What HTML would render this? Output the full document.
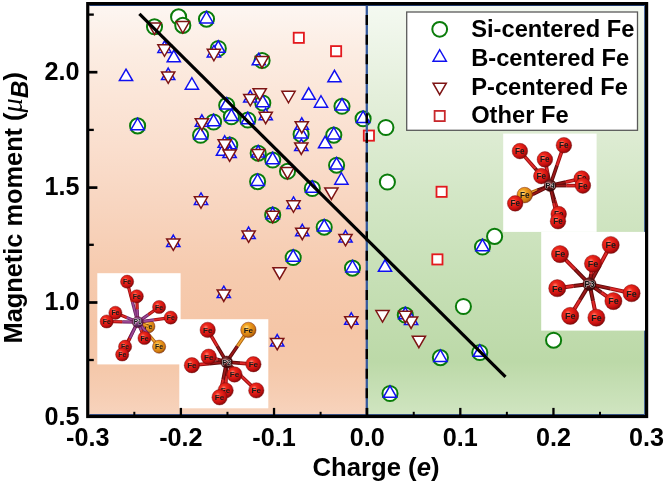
<!DOCTYPE html>
<html><head><meta charset="utf-8"><style>
html,body{margin:0;padding:0;background:#fff;}
svg{display:block;filter:blur(0.35px);}
.b{font-family:"Liberation Sans",sans-serif;font-weight:bold;fill:#000;}
text{font-family:"Liberation Sans",sans-serif;}
</style></head><body>
<svg width="666" height="484" viewBox="0 0 666 484">
<rect width="666" height="484" fill="#fff"/>
<defs>
<linearGradient id="gO" x1="0" y1="0" x2="0" y2="1">
<stop offset="0.000" stop-color="#fdf6f2"/>
<stop offset="0.109" stop-color="#fcede3"/>
<stop offset="0.231" stop-color="#fbe5d7"/>
<stop offset="0.353" stop-color="#fadecd"/>
<stop offset="0.475" stop-color="#f8d6c1"/>
<stop offset="0.646" stop-color="#f6cbaf"/>
<stop offset="0.793" stop-color="#f5c6a7"/>
<stop offset="0.881" stop-color="#f5c8aa"/>
<stop offset="0.951" stop-color="#f6ceb4"/>
<stop offset="0.998" stop-color="#f7d3bc"/>
</linearGradient>
<linearGradient id="gG" x1="0" y1="0" x2="0" y2="1">
<stop offset="0" stop-color="#f4f9f1"/>
<stop offset="0.22" stop-color="#e4efdb"/>
<stop offset="0.45" stop-color="#d4e7c7"/>
<stop offset="0.68" stop-color="#c6dfb5"/>
<stop offset="0.87" stop-color="#bcd9a8"/>
<stop offset="1" stop-color="#d0e5c1"/>
</linearGradient>
<radialGradient id="ball" cx="0.38" cy="0.35" r="0.7">
<stop offset="0" stop-color="#ff8a7a"/>
<stop offset="0.25" stop-color="#f02a1c"/>
<stop offset="0.7" stop-color="#c81010"/>
<stop offset="1" stop-color="#7a0606"/>
</radialGradient>
<radialGradient id="ballO" cx="0.38" cy="0.35" r="0.7">
<stop offset="0" stop-color="#ffe08a"/>
<stop offset="0.3" stop-color="#f0a020"/>
<stop offset="0.75" stop-color="#d07a10"/>
<stop offset="1" stop-color="#8a4a06"/>
</radialGradient>
<radialGradient id="ballP" cx="0.4" cy="0.35" r="0.7">
<stop offset="0" stop-color="#8a6a7a"/>
<stop offset="0.5" stop-color="#4a2a35"/>
<stop offset="1" stop-color="#1a0a10"/>
</radialGradient>
<radialGradient id="ballPm" cx="0.4" cy="0.35" r="0.7">
<stop offset="0" stop-color="#b07070"/>
<stop offset="0.45" stop-color="#5a1414"/>
<stop offset="1" stop-color="#200404"/>
</radialGradient>
<radialGradient id="ballPp" cx="0.4" cy="0.35" r="0.7">
<stop offset="0" stop-color="#c090c0"/>
<stop offset="0.45" stop-color="#7a3a78"/>
<stop offset="1" stop-color="#3a1038"/>
</radialGradient>
</defs>
<rect x="89.35" y="5.20" width="277.45" height="409.70" fill="url(#gO)"/>
<rect x="366.80" y="5.20" width="278.20" height="409.70" fill="url(#gG)"/>
<path d="M89.35 5.50 H644.70 V414.60 H89.35" fill="none" stroke="#2a4a8a" stroke-width="1"/>
<g fill="#fff" stroke="#0a7c0a" stroke-width="2.00">
<circle cx="154.50" cy="26.80" r="7.55"/>
<circle cx="178.60" cy="16.90" r="7.55"/>
<circle cx="182.80" cy="25.40" r="7.55"/>
<circle cx="206.50" cy="19.10" r="7.55"/>
<circle cx="218.30" cy="48.50" r="7.55"/>
<circle cx="262.10" cy="60.50" r="7.55"/>
<circle cx="342.00" cy="106.30" r="7.55"/>
<circle cx="226.70" cy="105.30" r="7.55"/>
<circle cx="231.40" cy="116.80" r="7.55"/>
<circle cx="247.80" cy="120.00" r="7.55"/>
<circle cx="213.60" cy="122.00" r="7.55"/>
<circle cx="200.60" cy="135.30" r="7.55"/>
<circle cx="137.60" cy="125.90" r="7.55"/>
<circle cx="262.80" cy="103.00" r="7.55"/>
<circle cx="301.10" cy="134.30" r="7.55"/>
<circle cx="363.10" cy="118.80" r="7.55"/>
<circle cx="333.80" cy="135.10" r="7.55"/>
<circle cx="336.60" cy="165.20" r="7.55"/>
<circle cx="385.90" cy="127.50" r="7.55"/>
<circle cx="387.40" cy="182.00" r="7.55"/>
<circle cx="229.80" cy="145.00" r="7.55"/>
<circle cx="258.20" cy="153.20" r="7.55"/>
<circle cx="272.70" cy="160.00" r="7.55"/>
<circle cx="287.50" cy="171.30" r="7.55"/>
<circle cx="257.60" cy="181.60" r="7.55"/>
<circle cx="312.30" cy="188.50" r="7.55"/>
<circle cx="272.70" cy="215.00" r="7.55"/>
<circle cx="324.20" cy="227.20" r="7.55"/>
<circle cx="293.20" cy="257.50" r="7.55"/>
<circle cx="352.50" cy="268.10" r="7.55"/>
<circle cx="405.30" cy="315.00" r="7.55"/>
<circle cx="390.00" cy="393.50" r="7.55"/>
<circle cx="440.40" cy="357.60" r="7.55"/>
<circle cx="479.80" cy="352.50" r="7.55"/>
<circle cx="482.50" cy="247.00" r="7.55"/>
<circle cx="494.60" cy="236.40" r="7.55"/>
<circle cx="463.40" cy="306.50" r="7.55"/>
<circle cx="553.60" cy="340.20" r="7.55"/>
</g>
<g fill="#fff" stroke="#1010f0" stroke-width="1.50" stroke-linejoin="miter">
<polygon points="206.50,11.45 213.12,22.93 199.88,22.93"/>
<polygon points="218.30,40.85 224.92,52.33 211.68,52.33"/>
<polygon points="342.00,98.65 348.62,110.12 335.38,110.12"/>
<polygon points="226.70,97.65 233.32,109.12 220.08,109.12"/>
<polygon points="231.40,109.15 238.02,120.62 224.78,120.62"/>
<polygon points="247.80,112.35 254.42,123.83 241.18,123.83"/>
<polygon points="213.60,114.35 220.22,125.83 206.98,125.83"/>
<polygon points="200.60,127.65 207.22,139.12 193.98,139.12"/>
<polygon points="137.60,118.25 144.22,129.72 130.98,129.72"/>
<polygon points="262.80,95.35 269.42,106.83 256.18,106.83"/>
<polygon points="301.10,126.65 307.72,138.12 294.48,138.12"/>
<polygon points="363.10,111.15 369.72,122.62 356.48,122.62"/>
<polygon points="333.80,127.45 340.42,138.92 327.18,138.92"/>
<polygon points="336.60,157.55 343.22,169.02 329.98,169.02"/>
<polygon points="229.80,137.35 236.42,148.82 223.18,148.82"/>
<polygon points="272.70,152.35 279.32,163.82 266.08,163.82"/>
<polygon points="257.60,173.95 264.22,185.42 250.98,185.42"/>
<polygon points="312.30,180.85 318.92,192.32 305.68,192.32"/>
<polygon points="324.20,219.55 330.82,231.02 317.58,231.02"/>
<polygon points="293.20,249.85 299.82,261.32 286.58,261.32"/>
<polygon points="352.50,260.45 359.12,271.93 345.88,271.93"/>
<polygon points="390.00,385.85 396.62,397.32 383.38,397.32"/>
<polygon points="440.40,349.95 447.02,361.43 433.78,361.43"/>
<polygon points="479.80,344.85 486.42,356.32 473.18,356.32"/>
<polygon points="482.50,239.35 489.12,250.82 475.88,250.82"/>
<polygon points="126.00,69.15 132.62,80.62 119.38,80.62"/>
<polygon points="173.80,50.35 180.42,61.83 167.18,61.83"/>
<polygon points="191.90,77.75 198.52,89.23 185.28,89.23"/>
<polygon points="334.50,70.35 341.12,81.83 327.88,81.83"/>
<polygon points="308.70,87.85 315.32,99.33 302.08,99.33"/>
<polygon points="321.00,95.75 327.62,107.23 314.38,107.23"/>
<polygon points="325.10,136.35 331.72,147.82 318.48,147.82"/>
<polygon points="341.40,172.75 348.02,184.22 334.78,184.22"/>
<polygon points="385.00,259.85 391.62,271.32 378.38,271.32"/>
<polygon points="223.00,143.85 229.62,155.32 216.38,155.32"/>
<polygon points="258.80,53.35 265.42,64.83 252.18,64.83"/>
<polygon points="164.50,40.95 171.12,52.43 157.88,52.43"/>
<polygon points="168.20,68.05 174.82,79.53 161.58,79.53"/>
<polygon points="213.90,45.45 220.52,56.93 207.28,56.93"/>
<polygon points="201.90,114.85 208.52,126.33 195.28,126.33"/>
<polygon points="250.30,90.55 256.92,102.03 243.68,102.03"/>
<polygon points="265.70,108.35 272.32,119.83 259.08,119.83"/>
<polygon points="301.80,117.85 308.42,129.32 295.18,129.32"/>
<polygon points="301.30,139.15 307.92,150.62 294.68,150.62"/>
<polygon points="224.70,135.85 231.32,147.32 218.08,147.32"/>
<polygon points="229.60,146.05 236.22,157.52 222.98,157.52"/>
<polygon points="201.00,192.95 207.62,204.42 194.38,204.42"/>
<polygon points="293.50,196.95 300.12,208.42 286.88,208.42"/>
<polygon points="345.50,230.55 352.12,242.02 338.88,242.02"/>
<polygon points="173.30,235.05 179.92,246.52 166.68,246.52"/>
<polygon points="248.60,227.05 255.22,238.52 241.98,238.52"/>
<polygon points="302.30,224.35 308.92,235.82 295.68,235.82"/>
<polygon points="223.80,286.15 230.42,297.62 217.18,297.62"/>
<polygon points="277.20,334.55 283.82,346.02 270.58,346.02"/>
<polygon points="351.30,312.85 357.92,324.32 344.68,324.32"/>
<polygon points="411.10,313.15 417.72,324.62 404.48,324.62"/>
<polygon points="258.20,145.55 264.82,157.02 251.58,157.02"/>
<polygon points="272.70,207.35 279.32,218.82 266.08,218.82"/>
<polygon points="405.30,307.35 411.92,318.82 398.68,318.82"/>
</g>
<g fill="#fff" stroke="#7e1414" stroke-width="1.50" stroke-linejoin="miter">
<polygon points="164.50,56.25 171.12,44.77 157.88,44.77"/>
<polygon points="168.20,83.35 174.82,71.88 161.58,71.88"/>
<polygon points="213.90,60.75 220.52,49.27 207.28,49.27"/>
<polygon points="201.90,130.15 208.52,118.67 195.28,118.67"/>
<polygon points="250.30,105.85 256.92,94.38 243.68,94.38"/>
<polygon points="265.70,123.65 272.32,112.17 259.08,112.17"/>
<polygon points="301.80,133.15 308.42,121.67 295.18,121.67"/>
<polygon points="301.30,154.45 307.92,142.98 294.68,142.98"/>
<polygon points="224.70,151.15 231.32,139.68 218.08,139.68"/>
<polygon points="229.60,161.35 236.22,149.88 222.98,149.88"/>
<polygon points="201.00,208.25 207.62,196.78 194.38,196.78"/>
<polygon points="293.50,212.25 300.12,200.78 286.88,200.78"/>
<polygon points="345.50,245.85 352.12,234.38 338.88,234.38"/>
<polygon points="173.30,250.35 179.92,238.88 166.68,238.88"/>
<polygon points="248.60,242.35 255.22,230.88 241.98,230.88"/>
<polygon points="302.30,239.65 308.92,228.18 295.68,228.18"/>
<polygon points="223.80,301.45 230.42,289.98 217.18,289.98"/>
<polygon points="277.20,349.85 283.82,338.38 270.58,338.38"/>
<polygon points="351.30,328.15 357.92,316.68 344.68,316.68"/>
<polygon points="411.10,328.45 417.72,316.98 404.48,316.98"/>
<polygon points="258.20,160.85 264.82,149.38 251.58,149.38"/>
<polygon points="272.70,222.65 279.32,211.18 266.08,211.18"/>
<polygon points="405.30,322.65 411.92,311.18 398.68,311.18"/>
<polygon points="259.70,100.15 266.32,88.67 253.08,88.67"/>
<polygon points="288.50,102.75 295.12,91.27 281.88,91.27"/>
<polygon points="331.40,199.45 338.02,187.98 324.78,187.98"/>
<polygon points="279.60,279.15 286.22,267.68 272.98,267.68"/>
<polygon points="382.50,322.05 389.12,310.57 375.88,310.57"/>
<polygon points="418.90,347.65 425.52,336.18 412.28,336.18"/>
<polygon points="154.50,34.45 161.12,22.98 147.88,22.98"/>
<polygon points="182.80,33.05 189.42,21.57 176.18,21.57"/>
<polygon points="287.50,178.95 294.12,167.48 280.88,167.48"/>
<polygon points="262.00,67.95 268.62,56.47 255.38,56.47"/>
</g>
<g fill="#fff" stroke="#e3191e" stroke-width="1.80">
<rect x="293.70" y="32.70" width="10.20" height="10.20"/>
<rect x="331.00" y="46.10" width="10.20" height="10.20"/>
<rect x="363.80" y="130.50" width="10.20" height="10.20"/>
<rect x="436.50" y="186.70" width="10.20" height="10.20"/>
<rect x="432.30" y="254.30" width="10.20" height="10.20"/>
</g>
<line x1="366.80" y1="5.20" x2="366.80" y2="414.90" stroke="#34599c" stroke-width="2.3"/>
<line x1="366.80" y1="5.20" x2="366.80" y2="414.90" stroke="#000" stroke-width="2.4" stroke-dasharray="10 9.65" stroke-dashoffset="-9.80"/>
<line x1="139.4" y1="13.9" x2="505.5" y2="376.8" stroke="#000" stroke-width="3.2" stroke-linecap="butt"/>
<rect x="97.3" y="273.2" width="83.3" height="91.2" fill="#fff"/><circle cx="148.4" cy="326.4" r="6.6" fill="url(#ballO)" stroke="#6a0a0a" stroke-width="0.4"/><text x="148.4" y="328.9" font-size="6.9" fill="#1a1a1a" text-anchor="middle" font-family="Liberation Sans" font-weight="bold">Fe</text><line x1="137.7" y1="322.1" x2="132.4" y2="301.9" stroke="#6a2060" stroke-width="3.2"/><line x1="137.7" y1="322.1" x2="132.4" y2="301.9" stroke="#a04a98" stroke-width="1.6"/><line x1="132.4" y1="301.9" x2="127.1" y2="281.7" stroke="#9a0c0c" stroke-width="3.2"/><line x1="132.4" y1="301.9" x2="127.1" y2="281.7" stroke="#e02a2a" stroke-width="1.6"/><line x1="137.7" y1="322.1" x2="137.2" y2="309.2" stroke="#6a2060" stroke-width="3.2"/><line x1="137.7" y1="322.1" x2="137.2" y2="309.2" stroke="#a04a98" stroke-width="1.6"/><line x1="137.2" y1="309.2" x2="136.8" y2="296.3" stroke="#9a0c0c" stroke-width="3.2"/><line x1="137.2" y1="309.2" x2="136.8" y2="296.3" stroke="#e02a2a" stroke-width="1.6"/><line x1="137.7" y1="322.1" x2="148.4" y2="314.6" stroke="#6a2060" stroke-width="3.2"/><line x1="137.7" y1="322.1" x2="148.4" y2="314.6" stroke="#a04a98" stroke-width="1.6"/><line x1="148.4" y1="314.6" x2="159.1" y2="307.0" stroke="#9a0c0c" stroke-width="3.2"/><line x1="148.4" y1="314.6" x2="159.1" y2="307.0" stroke="#e02a2a" stroke-width="1.6"/><line x1="137.7" y1="322.1" x2="154.2" y2="319.9" stroke="#6a2060" stroke-width="3.2"/><line x1="137.7" y1="322.1" x2="154.2" y2="319.9" stroke="#a04a98" stroke-width="1.6"/><line x1="154.2" y1="319.9" x2="170.7" y2="317.6" stroke="#9a0c0c" stroke-width="3.2"/><line x1="154.2" y1="319.9" x2="170.7" y2="317.6" stroke="#e02a2a" stroke-width="1.6"/><line x1="137.7" y1="322.1" x2="126.5" y2="317.5" stroke="#6a2060" stroke-width="3.2"/><line x1="137.7" y1="322.1" x2="126.5" y2="317.5" stroke="#a04a98" stroke-width="1.6"/><line x1="126.5" y1="317.5" x2="115.4" y2="312.8" stroke="#9a0c0c" stroke-width="3.2"/><line x1="126.5" y1="317.5" x2="115.4" y2="312.8" stroke="#e02a2a" stroke-width="1.6"/><line x1="137.7" y1="322.1" x2="122.2" y2="321.8" stroke="#6a2060" stroke-width="3.2"/><line x1="137.7" y1="322.1" x2="122.2" y2="321.8" stroke="#a04a98" stroke-width="1.6"/><line x1="122.2" y1="321.8" x2="106.7" y2="321.5" stroke="#9a0c0c" stroke-width="3.2"/><line x1="122.2" y1="321.8" x2="106.7" y2="321.5" stroke="#e02a2a" stroke-width="1.6"/><line x1="137.7" y1="322.1" x2="143.1" y2="324.2" stroke="#6a2060" stroke-width="3.2"/><line x1="137.7" y1="322.1" x2="143.1" y2="324.2" stroke="#a04a98" stroke-width="1.6"/><line x1="143.1" y1="324.2" x2="148.4" y2="326.4" stroke="#a86008" stroke-width="3.2"/><line x1="143.1" y1="324.2" x2="148.4" y2="326.4" stroke="#f0a030" stroke-width="1.6"/><line x1="137.7" y1="322.1" x2="148.4" y2="334.4" stroke="#6a2060" stroke-width="3.2"/><line x1="137.7" y1="322.1" x2="148.4" y2="334.4" stroke="#a04a98" stroke-width="1.6"/><line x1="148.4" y1="334.4" x2="159.1" y2="346.7" stroke="#a86008" stroke-width="3.2"/><line x1="148.4" y1="334.4" x2="159.1" y2="346.7" stroke="#f0a030" stroke-width="1.6"/><line x1="137.7" y1="322.1" x2="131.4" y2="334.4" stroke="#6a2060" stroke-width="3.2"/><line x1="137.7" y1="322.1" x2="131.4" y2="334.4" stroke="#a04a98" stroke-width="1.6"/><line x1="131.4" y1="334.4" x2="125.1" y2="346.7" stroke="#9a0c0c" stroke-width="3.2"/><line x1="131.4" y1="334.4" x2="125.1" y2="346.7" stroke="#e02a2a" stroke-width="1.6"/><line x1="137.7" y1="322.1" x2="129.9" y2="338.3" stroke="#6a2060" stroke-width="3.2"/><line x1="137.7" y1="322.1" x2="129.9" y2="338.3" stroke="#a04a98" stroke-width="1.6"/><line x1="129.9" y1="338.3" x2="122.2" y2="354.5" stroke="#9a0c0c" stroke-width="3.2"/><line x1="129.9" y1="338.3" x2="122.2" y2="354.5" stroke="#e02a2a" stroke-width="1.6"/><line x1="137.7" y1="322.1" x2="141.1" y2="330.1" stroke="#6a2060" stroke-width="3.2"/><line x1="137.7" y1="322.1" x2="141.1" y2="330.1" stroke="#a04a98" stroke-width="1.6"/><line x1="141.1" y1="330.1" x2="144.5" y2="338.0" stroke="#9a0c0c" stroke-width="3.2"/><line x1="141.1" y1="330.1" x2="144.5" y2="338.0" stroke="#e02a2a" stroke-width="1.6"/><circle cx="127.1" cy="281.7" r="6.6" fill="url(#ball)" stroke="#6a0a0a" stroke-width="0.4"/><text x="127.1" y="284.2" font-size="6.9" fill="#1a1a1a" text-anchor="middle" font-family="Liberation Sans" font-weight="bold">Fe</text><circle cx="136.8" cy="296.3" r="6.6" fill="url(#ball)" stroke="#6a0a0a" stroke-width="0.4"/><text x="136.8" y="298.8" font-size="6.9" fill="#1a1a1a" text-anchor="middle" font-family="Liberation Sans" font-weight="bold">Fe</text><circle cx="159.1" cy="307.0" r="6.6" fill="url(#ball)" stroke="#6a0a0a" stroke-width="0.4"/><text x="159.1" y="309.5" font-size="6.9" fill="#1a1a1a" text-anchor="middle" font-family="Liberation Sans" font-weight="bold">Fe</text><circle cx="170.7" cy="317.6" r="6.6" fill="url(#ball)" stroke="#6a0a0a" stroke-width="0.4"/><text x="170.7" y="320.1" font-size="6.9" fill="#1a1a1a" text-anchor="middle" font-family="Liberation Sans" font-weight="bold">Fe</text><circle cx="115.4" cy="312.8" r="6.6" fill="url(#ball)" stroke="#6a0a0a" stroke-width="0.4"/><text x="115.4" y="315.3" font-size="6.9" fill="#1a1a1a" text-anchor="middle" font-family="Liberation Sans" font-weight="bold">Fe</text><circle cx="106.7" cy="321.5" r="6.6" fill="url(#ball)" stroke="#6a0a0a" stroke-width="0.4"/><text x="106.7" y="324.0" font-size="6.9" fill="#1a1a1a" text-anchor="middle" font-family="Liberation Sans" font-weight="bold">Fe</text><circle cx="159.1" cy="346.7" r="6.6" fill="url(#ballO)" stroke="#6a0a0a" stroke-width="0.4"/><text x="159.1" y="349.2" font-size="6.9" fill="#1a1a1a" text-anchor="middle" font-family="Liberation Sans" font-weight="bold">Fe</text><circle cx="125.1" cy="346.7" r="6.6" fill="url(#ball)" stroke="#6a0a0a" stroke-width="0.4"/><text x="125.1" y="349.2" font-size="6.9" fill="#1a1a1a" text-anchor="middle" font-family="Liberation Sans" font-weight="bold">Fe</text><circle cx="122.2" cy="354.5" r="6.6" fill="url(#ball)" stroke="#6a0a0a" stroke-width="0.4"/><text x="122.2" y="357.0" font-size="6.9" fill="#1a1a1a" text-anchor="middle" font-family="Liberation Sans" font-weight="bold">Fe</text><circle cx="144.5" cy="338.0" r="6.6" fill="url(#ball)" stroke="#6a0a0a" stroke-width="0.4"/><text x="144.5" y="340.5" font-size="6.9" fill="#1a1a1a" text-anchor="middle" font-family="Liberation Sans" font-weight="bold">Fe</text><circle cx="137.7" cy="322.1" r="5.6" fill="url(#ballPp)" stroke="#6a0a0a" stroke-width="0.4"/><text x="137.7" y="324.4" font-size="6.3" fill="#111" stroke="#e8e8e8" stroke-width="0.7" paint-order="stroke" text-anchor="middle" font-family="Liberation Sans" font-weight="bold">P1</text>
<rect x="179.3" y="319.2" width="89.0" height="89.1" fill="#fff"/><line x1="226.6" y1="362.0" x2="217.1" y2="345.9" stroke="#5a0a0a" stroke-width="3.6"/><line x1="226.6" y1="362.0" x2="217.1" y2="345.9" stroke="#9a1818" stroke-width="1.8"/><line x1="217.1" y1="345.9" x2="207.7" y2="329.9" stroke="#9a0c0c" stroke-width="3.6"/><line x1="217.1" y1="345.9" x2="207.7" y2="329.9" stroke="#e02a2a" stroke-width="1.8"/><line x1="226.6" y1="362.0" x2="237.5" y2="345.9" stroke="#5a0a0a" stroke-width="3.6"/><line x1="226.6" y1="362.0" x2="237.5" y2="345.9" stroke="#9a1818" stroke-width="1.8"/><line x1="237.5" y1="345.9" x2="248.4" y2="329.9" stroke="#a86008" stroke-width="3.6"/><line x1="237.5" y1="345.9" x2="248.4" y2="329.9" stroke="#f0a030" stroke-width="1.8"/><line x1="226.6" y1="362.0" x2="217.6" y2="359.4" stroke="#5a0a0a" stroke-width="3.6"/><line x1="226.6" y1="362.0" x2="217.6" y2="359.4" stroke="#9a1818" stroke-width="1.8"/><line x1="217.6" y1="359.4" x2="208.7" y2="356.7" stroke="#9a0c0c" stroke-width="3.6"/><line x1="217.6" y1="359.4" x2="208.7" y2="356.7" stroke="#e02a2a" stroke-width="1.8"/><line x1="226.6" y1="362.0" x2="209.2" y2="363.6" stroke="#5a0a0a" stroke-width="3.6"/><line x1="226.6" y1="362.0" x2="209.2" y2="363.6" stroke="#9a1818" stroke-width="1.8"/><line x1="209.2" y1="363.6" x2="191.9" y2="365.2" stroke="#9a0c0c" stroke-width="3.6"/><line x1="209.2" y1="363.6" x2="191.9" y2="365.2" stroke="#e02a2a" stroke-width="1.8"/><line x1="226.6" y1="362.0" x2="240.0" y2="363.1" stroke="#5a0a0a" stroke-width="3.6"/><line x1="226.6" y1="362.0" x2="240.0" y2="363.1" stroke="#9a1818" stroke-width="1.8"/><line x1="240.0" y1="363.1" x2="253.4" y2="364.2" stroke="#9a0c0c" stroke-width="3.6"/><line x1="240.0" y1="363.1" x2="253.4" y2="364.2" stroke="#e02a2a" stroke-width="1.8"/><line x1="226.6" y1="362.0" x2="241.4" y2="376.2" stroke="#5a0a0a" stroke-width="3.6"/><line x1="226.6" y1="362.0" x2="241.4" y2="376.2" stroke="#9a1818" stroke-width="1.8"/><line x1="241.4" y1="376.2" x2="256.3" y2="390.4" stroke="#9a0c0c" stroke-width="3.6"/><line x1="241.4" y1="376.2" x2="256.3" y2="390.4" stroke="#e02a2a" stroke-width="1.8"/><line x1="226.6" y1="362.0" x2="226.1" y2="376.2" stroke="#5a0a0a" stroke-width="3.6"/><line x1="226.6" y1="362.0" x2="226.1" y2="376.2" stroke="#9a1818" stroke-width="1.8"/><line x1="226.1" y1="376.2" x2="225.6" y2="390.4" stroke="#9a0c0c" stroke-width="3.6"/><line x1="226.1" y1="376.2" x2="225.6" y2="390.4" stroke="#e02a2a" stroke-width="1.8"/><line x1="226.6" y1="362.0" x2="223.1" y2="379.6" stroke="#5a0a0a" stroke-width="3.6"/><line x1="226.6" y1="362.0" x2="223.1" y2="379.6" stroke="#9a1818" stroke-width="1.8"/><line x1="223.1" y1="379.6" x2="219.6" y2="397.3" stroke="#9a0c0c" stroke-width="3.6"/><line x1="223.1" y1="379.6" x2="219.6" y2="397.3" stroke="#e02a2a" stroke-width="1.8"/><line x1="226.6" y1="362.0" x2="230.6" y2="368.2" stroke="#5a0a0a" stroke-width="3.6"/><line x1="226.6" y1="362.0" x2="230.6" y2="368.2" stroke="#9a1818" stroke-width="1.8"/><line x1="230.6" y1="368.2" x2="234.5" y2="374.5" stroke="#9a0c0c" stroke-width="3.6"/><line x1="230.6" y1="368.2" x2="234.5" y2="374.5" stroke="#e02a2a" stroke-width="1.8"/><circle cx="207.7" cy="329.9" r="7.7" fill="url(#ball)" stroke="#6a0a0a" stroke-width="0.4"/><text x="207.7" y="332.8" font-size="8.1" fill="#1a1a1a" text-anchor="middle" font-family="Liberation Sans" font-weight="bold">Fe</text><circle cx="248.4" cy="329.9" r="7.7" fill="url(#ballO)" stroke="#6a0a0a" stroke-width="0.4"/><text x="248.4" y="332.8" font-size="8.1" fill="#1a1a1a" text-anchor="middle" font-family="Liberation Sans" font-weight="bold">Fe</text><circle cx="208.7" cy="356.7" r="7.7" fill="url(#ball)" stroke="#6a0a0a" stroke-width="0.4"/><text x="208.7" y="359.6" font-size="8.1" fill="#1a1a1a" text-anchor="middle" font-family="Liberation Sans" font-weight="bold">Fe</text><circle cx="191.9" cy="365.2" r="7.7" fill="url(#ball)" stroke="#6a0a0a" stroke-width="0.4"/><text x="191.9" y="368.1" font-size="8.1" fill="#1a1a1a" text-anchor="middle" font-family="Liberation Sans" font-weight="bold">Fe</text><circle cx="253.4" cy="364.2" r="7.7" fill="url(#ball)" stroke="#6a0a0a" stroke-width="0.4"/><text x="253.4" y="367.1" font-size="8.1" fill="#1a1a1a" text-anchor="middle" font-family="Liberation Sans" font-weight="bold">Fe</text><circle cx="256.3" cy="390.4" r="7.7" fill="url(#ball)" stroke="#6a0a0a" stroke-width="0.4"/><text x="256.3" y="393.3" font-size="8.1" fill="#1a1a1a" text-anchor="middle" font-family="Liberation Sans" font-weight="bold">Fe</text><circle cx="225.6" cy="390.4" r="7.7" fill="url(#ball)" stroke="#6a0a0a" stroke-width="0.4"/><text x="225.6" y="393.3" font-size="8.1" fill="#1a1a1a" text-anchor="middle" font-family="Liberation Sans" font-weight="bold">Fe</text><circle cx="219.6" cy="397.3" r="7.7" fill="url(#ball)" stroke="#6a0a0a" stroke-width="0.4"/><text x="219.6" y="400.2" font-size="8.1" fill="#1a1a1a" text-anchor="middle" font-family="Liberation Sans" font-weight="bold">Fe</text><circle cx="234.5" cy="374.5" r="7.7" fill="url(#ball)" stroke="#6a0a0a" stroke-width="0.4"/><text x="234.5" y="377.4" font-size="8.1" fill="#1a1a1a" text-anchor="middle" font-family="Liberation Sans" font-weight="bold">Fe</text><circle cx="226.6" cy="362.0" r="6.0" fill="url(#ballPm)" stroke="#6a0a0a" stroke-width="0.4"/><text x="226.6" y="364.6" font-size="7.3" fill="#111" stroke="#e8e8e8" stroke-width="0.7" paint-order="stroke" text-anchor="middle" font-family="Liberation Sans" font-weight="bold">P2</text>
<rect x="503.2" y="133.6" width="93.4" height="98.3" fill="#fff"/><line x1="550.1" y1="185.6" x2="535.0" y2="168.3" stroke="#5a0a0a" stroke-width="3.6"/><line x1="550.1" y1="185.6" x2="535.0" y2="168.3" stroke="#9a1818" stroke-width="1.8"/><line x1="535.0" y1="168.3" x2="519.9" y2="151.1" stroke="#9a0c0c" stroke-width="3.6"/><line x1="535.0" y1="168.3" x2="519.9" y2="151.1" stroke="#e02a2a" stroke-width="1.8"/><line x1="550.1" y1="185.6" x2="557.0" y2="165.4" stroke="#5a0a0a" stroke-width="3.6"/><line x1="550.1" y1="185.6" x2="557.0" y2="165.4" stroke="#9a1818" stroke-width="1.8"/><line x1="557.0" y1="165.4" x2="563.9" y2="145.2" stroke="#9a0c0c" stroke-width="3.6"/><line x1="557.0" y1="165.4" x2="563.9" y2="145.2" stroke="#e02a2a" stroke-width="1.8"/><line x1="550.1" y1="185.6" x2="547.5" y2="172.5" stroke="#5a0a0a" stroke-width="3.6"/><line x1="550.1" y1="185.6" x2="547.5" y2="172.5" stroke="#9a1818" stroke-width="1.8"/><line x1="547.5" y1="172.5" x2="544.9" y2="159.4" stroke="#9a0c0c" stroke-width="3.6"/><line x1="547.5" y1="172.5" x2="544.9" y2="159.4" stroke="#e02a2a" stroke-width="1.8"/><line x1="550.1" y1="185.6" x2="545.7" y2="180.8" stroke="#5a0a0a" stroke-width="3.6"/><line x1="550.1" y1="185.6" x2="545.7" y2="180.8" stroke="#9a1818" stroke-width="1.8"/><line x1="545.7" y1="180.8" x2="541.3" y2="176.1" stroke="#9a0c0c" stroke-width="3.6"/><line x1="545.7" y1="180.8" x2="541.3" y2="176.1" stroke="#e02a2a" stroke-width="1.8"/><line x1="550.1" y1="185.6" x2="565.9" y2="182.1" stroke="#5a0a0a" stroke-width="3.6"/><line x1="550.1" y1="185.6" x2="565.9" y2="182.1" stroke="#9a1818" stroke-width="1.8"/><line x1="565.9" y1="182.1" x2="581.7" y2="178.5" stroke="#9a0c0c" stroke-width="3.6"/><line x1="565.9" y1="182.1" x2="581.7" y2="178.5" stroke="#e02a2a" stroke-width="1.8"/><line x1="550.1" y1="185.6" x2="566.5" y2="185.6" stroke="#5a0a0a" stroke-width="3.6"/><line x1="550.1" y1="185.6" x2="566.5" y2="185.6" stroke="#9a1818" stroke-width="1.8"/><line x1="566.5" y1="185.6" x2="582.9" y2="185.6" stroke="#9a0c0c" stroke-width="3.6"/><line x1="566.5" y1="185.6" x2="582.9" y2="185.6" stroke="#e02a2a" stroke-width="1.8"/><line x1="550.1" y1="185.6" x2="537.4" y2="190.3" stroke="#5a0a0a" stroke-width="3.6"/><line x1="550.1" y1="185.6" x2="537.4" y2="190.3" stroke="#9a1818" stroke-width="1.8"/><line x1="537.4" y1="190.3" x2="524.7" y2="195.1" stroke="#a86008" stroke-width="3.6"/><line x1="537.4" y1="190.3" x2="524.7" y2="195.1" stroke="#f0a030" stroke-width="1.8"/><line x1="550.1" y1="185.6" x2="532.7" y2="194.5" stroke="#5a0a0a" stroke-width="3.6"/><line x1="550.1" y1="185.6" x2="532.7" y2="194.5" stroke="#9a1818" stroke-width="1.8"/><line x1="532.7" y1="194.5" x2="515.2" y2="203.4" stroke="#9a0c0c" stroke-width="3.6"/><line x1="532.7" y1="194.5" x2="515.2" y2="203.4" stroke="#e02a2a" stroke-width="1.8"/><line x1="550.1" y1="185.6" x2="554.4" y2="199.8" stroke="#5a0a0a" stroke-width="3.6"/><line x1="550.1" y1="185.6" x2="554.4" y2="199.8" stroke="#9a1818" stroke-width="1.8"/><line x1="554.4" y1="199.8" x2="558.7" y2="214.1" stroke="#9a0c0c" stroke-width="3.6"/><line x1="554.4" y1="199.8" x2="558.7" y2="214.1" stroke="#e02a2a" stroke-width="1.8"/><line x1="550.1" y1="185.6" x2="554.0" y2="203.4" stroke="#5a0a0a" stroke-width="3.6"/><line x1="550.1" y1="185.6" x2="554.0" y2="203.4" stroke="#9a1818" stroke-width="1.8"/><line x1="554.0" y1="203.4" x2="558.0" y2="221.2" stroke="#9a0c0c" stroke-width="3.6"/><line x1="554.0" y1="203.4" x2="558.0" y2="221.2" stroke="#e02a2a" stroke-width="1.8"/><circle cx="519.9" cy="151.1" r="7.8" fill="url(#ball)" stroke="#6a0a0a" stroke-width="0.4"/><text x="519.9" y="154.0" font-size="8.2" fill="#1a1a1a" text-anchor="middle" font-family="Liberation Sans" font-weight="bold">Fe</text><circle cx="563.9" cy="145.2" r="7.8" fill="url(#ball)" stroke="#6a0a0a" stroke-width="0.4"/><text x="563.9" y="148.1" font-size="8.2" fill="#1a1a1a" text-anchor="middle" font-family="Liberation Sans" font-weight="bold">Fe</text><circle cx="544.9" cy="159.4" r="7.8" fill="url(#ball)" stroke="#6a0a0a" stroke-width="0.4"/><text x="544.9" y="162.3" font-size="8.2" fill="#1a1a1a" text-anchor="middle" font-family="Liberation Sans" font-weight="bold">Fe</text><circle cx="541.3" cy="176.1" r="7.8" fill="url(#ball)" stroke="#6a0a0a" stroke-width="0.4"/><text x="541.3" y="179.0" font-size="8.2" fill="#1a1a1a" text-anchor="middle" font-family="Liberation Sans" font-weight="bold">Fe</text><circle cx="581.7" cy="178.5" r="7.8" fill="url(#ball)" stroke="#6a0a0a" stroke-width="0.4"/><text x="581.7" y="181.4" font-size="8.2" fill="#1a1a1a" text-anchor="middle" font-family="Liberation Sans" font-weight="bold">Fe</text><circle cx="582.9" cy="185.6" r="7.8" fill="url(#ball)" stroke="#6a0a0a" stroke-width="0.4"/><text x="582.9" y="188.5" font-size="8.2" fill="#1a1a1a" text-anchor="middle" font-family="Liberation Sans" font-weight="bold">Fe</text><circle cx="524.7" cy="195.1" r="7.8" fill="url(#ballO)" stroke="#6a0a0a" stroke-width="0.4"/><text x="524.7" y="198.0" font-size="8.2" fill="#1a1a1a" text-anchor="middle" font-family="Liberation Sans" font-weight="bold">Fe</text><circle cx="515.2" cy="203.4" r="7.8" fill="url(#ball)" stroke="#6a0a0a" stroke-width="0.4"/><text x="515.2" y="206.3" font-size="8.2" fill="#1a1a1a" text-anchor="middle" font-family="Liberation Sans" font-weight="bold">Fe</text><circle cx="558.7" cy="214.1" r="7.8" fill="url(#ball)" stroke="#6a0a0a" stroke-width="0.4"/><text x="558.7" y="217.0" font-size="8.2" fill="#1a1a1a" text-anchor="middle" font-family="Liberation Sans" font-weight="bold">Fe</text><circle cx="558.0" cy="221.2" r="7.8" fill="url(#ball)" stroke="#6a0a0a" stroke-width="0.4"/><text x="558.0" y="224.1" font-size="8.2" fill="#1a1a1a" text-anchor="middle" font-family="Liberation Sans" font-weight="bold">Fe</text><circle cx="550.1" cy="185.6" r="6.0" fill="url(#ballPm)" stroke="#6a0a0a" stroke-width="0.4"/><text x="550.1" y="188.3" font-size="7.4" fill="#111" stroke="#e8e8e8" stroke-width="0.7" paint-order="stroke" text-anchor="middle" font-family="Liberation Sans" font-weight="bold">P4</text>
<rect x="541.2" y="231.9" width="103.8" height="98.7" fill="#fff"/><line x1="589.5" y1="284.1" x2="574.8" y2="269.1" stroke="#5a0a0a" stroke-width="4.0"/><line x1="589.5" y1="284.1" x2="574.8" y2="269.1" stroke="#9a1818" stroke-width="2.0"/><line x1="574.8" y1="269.1" x2="560.0" y2="254.1" stroke="#9a0c0c" stroke-width="4.0"/><line x1="574.8" y1="269.1" x2="560.0" y2="254.1" stroke="#e02a2a" stroke-width="2.0"/><line x1="589.5" y1="284.1" x2="600.1" y2="264.6" stroke="#5a0a0a" stroke-width="4.0"/><line x1="589.5" y1="284.1" x2="600.1" y2="264.6" stroke="#9a1818" stroke-width="2.0"/><line x1="600.1" y1="264.6" x2="610.7" y2="245.0" stroke="#9a0c0c" stroke-width="4.0"/><line x1="600.1" y1="264.6" x2="610.7" y2="245.0" stroke="#e02a2a" stroke-width="2.0"/><line x1="589.5" y1="284.1" x2="591.2" y2="273.9" stroke="#5a0a0a" stroke-width="4.0"/><line x1="589.5" y1="284.1" x2="591.2" y2="273.9" stroke="#9a1818" stroke-width="2.0"/><line x1="591.2" y1="273.9" x2="593.0" y2="263.6" stroke="#9a0c0c" stroke-width="4.0"/><line x1="591.2" y1="273.9" x2="593.0" y2="263.6" stroke="#e02a2a" stroke-width="2.0"/><line x1="589.5" y1="284.1" x2="573.4" y2="286.1" stroke="#5a0a0a" stroke-width="4.0"/><line x1="589.5" y1="284.1" x2="573.4" y2="286.1" stroke="#9a1818" stroke-width="2.0"/><line x1="573.4" y1="286.1" x2="557.3" y2="288.2" stroke="#9a0c0c" stroke-width="4.0"/><line x1="573.4" y1="286.1" x2="557.3" y2="288.2" stroke="#e02a2a" stroke-width="2.0"/><line x1="589.5" y1="284.1" x2="610.5" y2="288.6" stroke="#5a0a0a" stroke-width="4.0"/><line x1="589.5" y1="284.1" x2="610.5" y2="288.6" stroke="#9a1818" stroke-width="2.0"/><line x1="610.5" y1="288.6" x2="631.6" y2="293.2" stroke="#9a0c0c" stroke-width="4.0"/><line x1="610.5" y1="288.6" x2="631.6" y2="293.2" stroke="#e02a2a" stroke-width="2.0"/><line x1="589.5" y1="284.1" x2="601.5" y2="292.6" stroke="#5a0a0a" stroke-width="4.0"/><line x1="589.5" y1="284.1" x2="601.5" y2="292.6" stroke="#9a1818" stroke-width="2.0"/><line x1="601.5" y1="292.6" x2="613.4" y2="301.1" stroke="#9a0c0c" stroke-width="4.0"/><line x1="601.5" y1="292.6" x2="613.4" y2="301.1" stroke="#e02a2a" stroke-width="2.0"/><line x1="589.5" y1="284.1" x2="579.9" y2="300.0" stroke="#5a0a0a" stroke-width="4.0"/><line x1="589.5" y1="284.1" x2="579.9" y2="300.0" stroke="#9a1818" stroke-width="2.0"/><line x1="579.9" y1="300.0" x2="570.2" y2="315.9" stroke="#9a0c0c" stroke-width="4.0"/><line x1="579.9" y1="300.0" x2="570.2" y2="315.9" stroke="#e02a2a" stroke-width="2.0"/><line x1="589.5" y1="284.1" x2="593.0" y2="300.9" stroke="#5a0a0a" stroke-width="4.0"/><line x1="589.5" y1="284.1" x2="593.0" y2="300.9" stroke="#9a1818" stroke-width="2.0"/><line x1="593.0" y1="300.9" x2="596.4" y2="317.7" stroke="#9a0c0c" stroke-width="4.0"/><line x1="593.0" y1="300.9" x2="596.4" y2="317.7" stroke="#e02a2a" stroke-width="2.0"/><circle cx="560.0" cy="254.1" r="8.6" fill="url(#ball)" stroke="#6a0a0a" stroke-width="0.4"/><text x="560.0" y="257.4" font-size="9.0" fill="#1a1a1a" text-anchor="middle" font-family="Liberation Sans" font-weight="bold">Fe</text><circle cx="610.7" cy="245.0" r="8.6" fill="url(#ball)" stroke="#6a0a0a" stroke-width="0.4"/><text x="610.7" y="248.3" font-size="9.0" fill="#1a1a1a" text-anchor="middle" font-family="Liberation Sans" font-weight="bold">Fe</text><circle cx="593.0" cy="263.6" r="8.6" fill="url(#ball)" stroke="#6a0a0a" stroke-width="0.4"/><text x="593.0" y="266.9" font-size="9.0" fill="#1a1a1a" text-anchor="middle" font-family="Liberation Sans" font-weight="bold">Fe</text><circle cx="557.3" cy="288.2" r="8.6" fill="url(#ball)" stroke="#6a0a0a" stroke-width="0.4"/><text x="557.3" y="291.5" font-size="9.0" fill="#1a1a1a" text-anchor="middle" font-family="Liberation Sans" font-weight="bold">Fe</text><circle cx="631.6" cy="293.2" r="8.6" fill="url(#ball)" stroke="#6a0a0a" stroke-width="0.4"/><text x="631.6" y="296.5" font-size="9.0" fill="#1a1a1a" text-anchor="middle" font-family="Liberation Sans" font-weight="bold">Fe</text><circle cx="613.4" cy="301.1" r="8.6" fill="url(#ball)" stroke="#6a0a0a" stroke-width="0.4"/><text x="613.4" y="304.4" font-size="9.0" fill="#1a1a1a" text-anchor="middle" font-family="Liberation Sans" font-weight="bold">Fe</text><circle cx="570.2" cy="315.9" r="8.6" fill="url(#ball)" stroke="#6a0a0a" stroke-width="0.4"/><text x="570.2" y="319.2" font-size="9.0" fill="#1a1a1a" text-anchor="middle" font-family="Liberation Sans" font-weight="bold">Fe</text><circle cx="596.4" cy="317.7" r="8.6" fill="url(#ball)" stroke="#6a0a0a" stroke-width="0.4"/><text x="596.4" y="321.0" font-size="9.0" fill="#1a1a1a" text-anchor="middle" font-family="Liberation Sans" font-weight="bold">Fe</text><circle cx="589.5" cy="284.1" r="6.6" fill="url(#ballPm)" stroke="#6a0a0a" stroke-width="0.4"/><text x="589.5" y="287.0" font-size="8.2" fill="#111" stroke="#e8e8e8" stroke-width="0.7" paint-order="stroke" text-anchor="middle" font-family="Liberation Sans" font-weight="bold">P3</text>
<rect x="406.70" y="12.00" width="230.80" height="118.30" fill="#fff" stroke="#5a5a5a" stroke-width="1.3"/>
<circle cx="439.70" cy="29.3" r="7.4" fill="#fff" stroke="#0a7c0a" stroke-width="2"/>
<polygon points="439.70,49.75 446.32,61.23 433.08,61.23" fill="#fff" stroke="#1010f0" stroke-width="1.5"/>
<polygon points="439.70,94.65 446.32,83.17 433.08,83.17" fill="#fff" stroke="#7e1414" stroke-width="1.5"/>
<rect x="434.60" y="110.90" width="10.2" height="10.2" fill="#fff" stroke="#c8282c" stroke-width="1.8"/>
<text x="471.2" y="36.5" font-size="23.7" class="b">Si-centered Fe</text>
<text x="471.2" y="65.6" font-size="23.7" class="b">B-centered Fe</text>
<text x="471.2" y="94.7" font-size="23.7" class="b">P-centered Fe</text>
<text x="471.2" y="123.2" font-size="23.7" class="b">Other Fe</text>
<rect x="87.75" y="3.60" width="558.85" height="412.90" fill="none" stroke="#000" stroke-width="3.20"/>
<line x1="87.75" y1="72.20" x2="97.4" y2="72.20" stroke="#000" stroke-width="2.7"/>
<line x1="87.75" y1="187.60" x2="97.4" y2="187.60" stroke="#000" stroke-width="2.7"/>
<line x1="87.75" y1="302.50" x2="97.4" y2="302.50" stroke="#000" stroke-width="2.7"/>
<line x1="87.75" y1="14.60" x2="93.8" y2="14.60" stroke="#000" stroke-width="2.3"/>
<line x1="87.75" y1="129.90" x2="93.8" y2="129.90" stroke="#000" stroke-width="2.3"/>
<line x1="87.75" y1="244.80" x2="93.8" y2="244.80" stroke="#000" stroke-width="2.3"/>
<line x1="87.75" y1="360.00" x2="93.8" y2="360.00" stroke="#000" stroke-width="2.3"/>
<line x1="180.89" y1="416.50" x2="180.89" y2="407.9" stroke="#000" stroke-width="2.3"/>
<line x1="274.03" y1="416.50" x2="274.03" y2="407.9" stroke="#000" stroke-width="2.3"/>
<line x1="367.17" y1="416.50" x2="367.17" y2="407.9" stroke="#000" stroke-width="2.3"/>
<line x1="460.31" y1="416.50" x2="460.31" y2="407.9" stroke="#000" stroke-width="2.3"/>
<line x1="553.45" y1="416.50" x2="553.45" y2="407.9" stroke="#000" stroke-width="2.3"/>
<line x1="134.32" y1="416.50" x2="134.32" y2="411.8" stroke="#000" stroke-width="2.0"/>
<line x1="227.46" y1="416.50" x2="227.46" y2="411.8" stroke="#000" stroke-width="2.0"/>
<line x1="320.60" y1="416.50" x2="320.60" y2="411.8" stroke="#000" stroke-width="2.0"/>
<line x1="413.74" y1="416.50" x2="413.74" y2="411.8" stroke="#000" stroke-width="2.0"/>
<line x1="506.88" y1="416.50" x2="506.88" y2="411.8" stroke="#000" stroke-width="2.0"/>
<line x1="600.02" y1="416.50" x2="600.02" y2="411.8" stroke="#000" stroke-width="2.0"/>
<text transform="translate(79.6,79.60) scale(1,1.060)" font-size="25.2" class="b" text-anchor="end">2.0</text>
<text transform="translate(79.6,195.00) scale(1,1.060)" font-size="25.2" class="b" text-anchor="end">1.5</text>
<text transform="translate(79.6,309.90) scale(1,1.060)" font-size="25.2" class="b" text-anchor="end">1.0</text>
<text transform="translate(79.6,424.60) scale(1,1.060)" font-size="25.2" class="b" text-anchor="end">0.5</text>
<text transform="translate(87.75,445.6) scale(1,1.060)" font-size="25.2" class="b" text-anchor="middle">-0.3</text>
<text transform="translate(180.89,445.6) scale(1,1.060)" font-size="25.2" class="b" text-anchor="middle">-0.2</text>
<text transform="translate(274.03,445.6) scale(1,1.060)" font-size="25.2" class="b" text-anchor="middle">-0.1</text>
<text transform="translate(367.17,445.6) scale(1,1.060)" font-size="25.2" class="b" text-anchor="middle">0.0</text>
<text transform="translate(460.31,445.6) scale(1,1.060)" font-size="25.2" class="b" text-anchor="middle">0.1</text>
<text transform="translate(553.45,445.6) scale(1,1.060)" font-size="25.2" class="b" text-anchor="middle">0.2</text>
<text transform="translate(646.59,445.6) scale(1,1.060)" font-size="25.2" class="b" text-anchor="middle">0.3</text>
<text transform="translate(376,476) scale(1,1.03)" font-size="25.7" class="b" text-anchor="middle">Charge (<tspan font-style="italic">e</tspan>)</text>
<text transform="translate(21.9,343.4) rotate(-90)" x="0" y="0" font-size="25.35" class="b">Magnetic moment (<tspan font-style="italic" font-weight="normal" font-family="Liberation Serif" font-size="28.5">&#956;</tspan><tspan font-style="italic" font-size="24.5" dy="5.8">B</tspan><tspan dy="-5.8">)</tspan></text>
</svg>
</body></html>
